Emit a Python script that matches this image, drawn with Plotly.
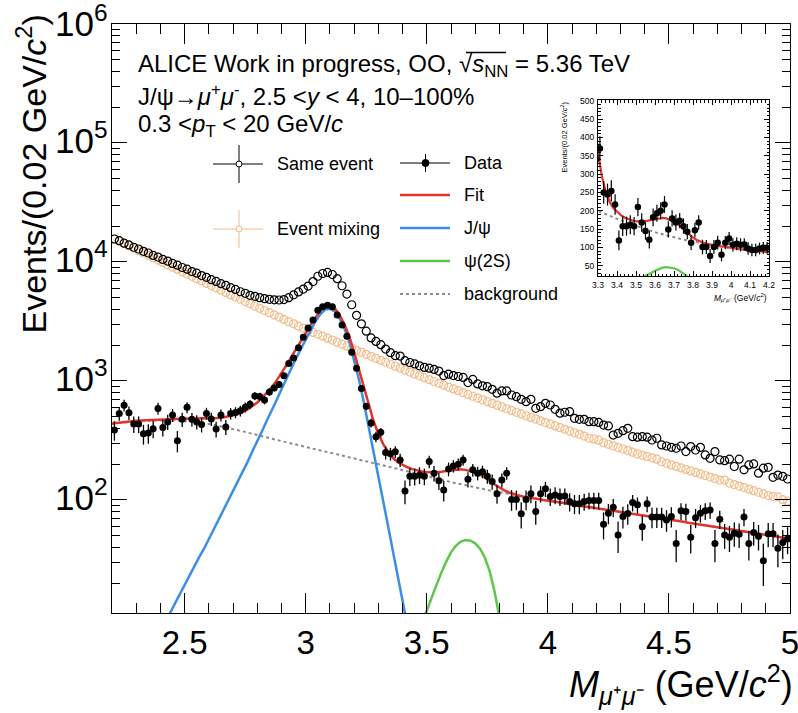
import plotly.graph_objects as go

# ---------------- data ----------------
bin_low = 2.2
bin_width = 0.02
n_bins = 140
mass = [round(bin_low + bin_width * (i + 0.5), 3) for i in range(n_bins)]

data_counts = [
    387, 534, 624, 541, 434, 434, 360, 365, 397, 588,
    407, 453, 517, 315, 476, 600, 476, 453, 431, 534,
    479, 395, 517, 411, 534, 544, 561, 600, 636, 746,
    739, 692, 808, 873, 935, 1104, 1400, 1560, 1904, 2330,
    2782, 3258, 3920, 4210, 4320, 4200, 3589, 2958, 2380, 1740,
    1280, 864, 612, 444, 340, 370, 250, 244, 254, 217,
    119, 158, 158, 162, 158, 210, 168, 145, 121, 182,
    193, 200, 217, 149, 179, 168, 173, 158, 143, 113,
    147, 168, 101, 101, 76.5, 101, 113, 79.8, 113, 124,
    107, 110, 107, 108, 97, 93, 93, 97, 99, 99,
    99, 62.6, 77.5, 87, 50.8, 72.7, 77, 95, 91, 59.5,
    93, 71.9, 72, 72, 68, 72.7, 43, 81, 80, 48.5,
    71, 77.5, 81, 82.4, 43, 69, 50.8, 48.5, 52.5, 51.5,
    72, 43, 53.3, 49.6, 30.9, 52, 52, 39.2, 43.8, 47,
]
data_errors = [
    72, 70, 71, 70, 69, 70, 68, 68, 67, 68, 66, 66, 65, 64, 65, 64,
    63, 62, 62, 61, 61, 60, 60, 59, 59, 58, 58, 58, 57, 57, 57,
    56, 56, 56, 56, 57, 58, 60, 62, 64, 66, 70, 74, 76, 77, 76, 73,
    69, 64, 58, 52, 47, 42, 38, 35, 33, 31, 30, 29, 28, 27,
    27, 26, 26, 25, 25, 25, 24, 24, 24, 23, 23, 23, 22, 22, 22,
    21, 21, 21, 20, 20, 20, 20, 19, 19, 19, 19, 18, 18, 18, 18,
    18, 18, 17, 17, 17, 17, 16, 16, 16, 16, 16, 15, 15, 15, 15, 15, 15,
    14, 14, 14, 14, 14, 14, 14, 14, 13, 13, 13, 13, 13, 13, 13, 13, 13,
    12, 12, 12, 12, 12, 12, 12, 12, 12, 12, 12, 12, 12, 12, 12,
]
same_event = [
    15600, 15100, 14380, 13900, 13300, 12850, 12280, 11900, 11350, 10990,
    10500, 10180, 9720, 9400, 8990, 8700, 8310, 8050, 7690, 7430,
    7100, 6870, 6570, 6360, 6080, 5880, 5620, 5460, 5250, 5140,
    5010, 4920, 4850, 4810, 4790, 4830, 5010, 5300, 5600, 5920,
    6270, 6840, 7590, 8000, 8170, 7850, 7240, 6310, 5370, 4370,
    3560, 3020, 2620, 2300, 2150, 2020, 1855, 1730, 1630, 1620,
    1480, 1430, 1390, 1340, 1300, 1280, 1250, 1210, 1110, 1140,
    1110, 1090, 1070, 970, 1030, 945, 910, 895, 851, 790,
    824, 824, 762, 738, 701, 670, 701, 589, 608, 649,
    628, 578, 536, 546, 552, 485, 476, 476, 455, 455,
    448, 426, 419, 351, 363, 382, 400, 340, 337, 340,
    337, 319, 330, 290, 284, 277, 272, 284, 255, 281,
    263, 277, 239, 224, 255, 217, 214, 220, 191, 220,
    179, 197, 201, 168, 185, 188, 155, 162, 158, 150,
]
mixed_event = [
    15670, 14960, 14290, 13650, 13040, 12450, 11900, 11370, 10860, 10380,
    9910, 9470, 9050, 8650, 8270, 7910, 7570, 7240, 6920, 6620,
    6330, 6060, 5800, 5550, 5310, 5080, 4860, 4650, 4450, 4260,
    4080, 3910, 3750, 3590, 3440, 3290, 3150, 3020, 2890, 2770,
    2660, 2560, 2470, 2380, 2290, 2206, 2120, 2040, 1960, 1880,
    1810, 1741, 1675, 1612, 1551, 1492, 1436, 1382, 1330, 1280,
    1233, 1188, 1146, 1104, 1065, 1026, 990, 955, 921, 888,
    858, 828, 799, 771, 744, 718, 694, 670, 648, 626,
    605, 584, 565, 546, 528, 510, 494, 478, 462, 447,
    433, 419, 405, 392, 379, 367, 356, 344, 330, 326,
    318, 303, 294, 285, 276, 268, 260, 252, 244, 237,
    232, 226, 220, 209.4, 203.1, 197, 191.5, 186, 180.7, 175.5,
    170.4, 165.4, 160.5, 155.8, 151.2, 146.9, 147, 138.6, 134.7, 130.9,
    127.1, 123.3, 119.7, 116.1, 112.7, 109, 107, 106, 100.5, 97.7,
]

fit_mass = [round(2.2 + 0.02 * i, 2) for i in range(141)]
fit_total = [
    438, 444, 449, 453, 458, 462, 465, 468, 471, 473,
    476, 477, 478, 480, 481, 481, 481, 481, 481, 482,
    484, 485, 488, 493, 502, 512, 527, 551, 577, 616,
    660, 723, 803, 889, 1011, 1163, 1352, 1586, 1841, 2147,
    2518, 2964, 3429, 3892, 4236, 4296, 4090, 3589, 2987, 2367,
    1737, 1241, 874, 626, 461, 360, 295, 254, 226, 208,
    196.6, 188.2, 181.7, 177.1, 173.5, 170.9, 170.8, 170.9, 172.5, 175.2,
    177.3, 179.2, 180.7, 179, 175.5, 170.2, 163.9, 154.7, 145.1, 135,
    126.7, 120.3, 115.5, 111.8, 108.9, 106.4, 105.2, 103.1, 102, 100,
    98.9, 97.5, 96.0, 94.6, 93.1, 91.8, 90.6, 89.1, 87.9, 86.5,
    85.3, 84.1, 82.8, 81.7, 80.4, 79.3, 78.2, 76.9, 75.9, 74.6,
    73.6, 72.6, 71.4, 70.5, 69.3, 68.4, 67.5, 66.4, 65.5, 64.4,
    63.5, 62.7, 61.7, 60.8, 59.8, 59.0, 58.2, 57.3, 56.5, 55.6,
    54.8, 54.1, 53.2, 52.5, 51.6, 50.9, 50.2, 49.4, 48.8, 48.0,
    47.3,
]
fit_background = [
    437, 442, 447, 451, 455, 459, 461, 463, 466, 467,
    468, 468, 467, 466, 465, 462, 458, 453, 448, 443,
    437, 429, 420, 412, 404, 395, 386, 377, 368, 359,
    351, 343, 335, 327, 319, 312, 305, 298, 292, 285,
    279, 272, 267, 261, 255, 250, 244, 239, 233, 229,
    223, 218, 213, 209, 204, 200, 195, 191, 186, 182,
    178, 174, 170, 166, 162, 158, 155, 151, 148, 145,
    141, 138, 136, 133, 130, 127, 125, 122, 120, 118,
    116, 114, 112, 110, 108, 106, 105, 103, 102, 100,
    98.9, 97.5, 96.0, 94.6, 93.1, 91.8, 90.6, 89.1, 87.9, 86.5,
    85.3, 84.1, 82.8, 81.7, 80.4, 79.3, 78.2, 76.9, 75.9, 74.6,
    73.6, 72.6, 71.4, 70.5, 69.3, 68.4, 67.5, 66.4, 65.5, 64.4,
    63.5, 62.7, 61.7, 60.8, 59.8, 59.0, 58.2, 57.3, 56.5, 55.6,
    54.8, 54.1, 53.2, 52.5, 51.6, 50.9, 50.2, 49.4, 48.8, 48.0,
    47.3,
]
jpsi_mass = [round(2.40 + 0.02 * i, 2) for i in range(53)]
jpsi_curve = [
    7.6, 9.1, 11.2, 13.5, 16.2, 19.1, 22.9, 27.5, 33.1, 38.9,
    46.8, 56.2, 67.6, 81.3, 97.7, 117, 141, 174, 209, 257,
    309, 380, 468, 562, 692, 851, 1047, 1288, 1549, 1862,
    2239, 2692, 3162, 3631, 3981, 4046, 3846, 3350, 2754, 2138,
    1514, 1023, 661, 417, 257, 158, 97.7, 60.3, 37.2, 22.9,
    14.1, 8.7, 5.4,
]
psi2s_mass = [round(3.40 + 0.02 * i, 2) for i in range(23)]
psi2s_curve = [
    4.5, 5.5, 6.3, 7.8, 9.5, 11.7, 15.1, 19.5, 24.5, 30.2,
    36.3, 41.2, 44.7, 46.0, 45.5, 43.2, 38.9, 32.7, 25.1, 17.0,
    10.7, 6.3, 3.5,
]

y_tick_exponents = [2, 3, 4, 5, 6]

# ---------------- styling ----------------
C_RED = "#E5322B"
C_BLUE = "#3C8EE3"
C_GREEN = "#5EC64C"
C_ORANGE = "#F2BC8A"
C_GRAY = "#8C8C8C"
FONT = "Liberation Sans, Arial, Helvetica, sans-serif"

W, H = 798, 713
L, R, T, B = 112, 790, 24, 613
Y_LOG_MIN, Y_LOG_MAX = 1.05, 6.0


def fx(px):
    return (px - L) / (R - L)


def fy(py):
    return (B - py) / (B - T)


fig = go.Figure()

# main panel
fig.add_trace(go.Scatter(x=mass, y=mixed_event, mode="markers",
                         marker=dict(symbol="circle-open", size=8, color=C_ORANGE, line=dict(width=1.2, color=C_ORANGE)),
                         showlegend=False))
fig.add_trace(go.Scatter(x=mass, y=same_event, mode="markers",
                         marker=dict(symbol="circle-open", size=8, color="black", line=dict(width=1.2, color="black")),
                         showlegend=False))
fig.add_trace(go.Scatter(x=fit_mass, y=fit_background, mode="lines",
                         line=dict(color=C_GRAY, width=2, dash="dot"), showlegend=False))
fig.add_trace(go.Scatter(x=jpsi_mass, y=jpsi_curve, mode="lines",
                         line=dict(color=C_BLUE, width=2.5), showlegend=False))
fig.add_trace(go.Scatter(x=psi2s_mass, y=psi2s_curve, mode="lines",
                         line=dict(color=C_GREEN, width=2.5), showlegend=False))
fig.add_trace(go.Scatter(x=fit_mass, y=fit_total, mode="lines",
                         line=dict(color=C_RED, width=2.5), showlegend=False))
fig.add_trace(go.Scatter(x=mass, y=data_counts, mode="markers",
                         marker=dict(symbol="circle", size=7, color="black"),
                         error_y=dict(type="data", array=data_errors, color="black", thickness=1.3, width=0),
                         showlegend=False))

# inset panel
fig.add_trace(go.Scatter(x=fit_mass, y=fit_background, mode="lines", xaxis="x2", yaxis="y2",
                         line=dict(color=C_GRAY, width=2, dash="dot"), showlegend=False))
fig.add_trace(go.Scatter(x=psi2s_mass, y=psi2s_curve, mode="lines", xaxis="x2", yaxis="y2",
                         line=dict(color=C_GREEN, width=2.2), showlegend=False))
fig.add_trace(go.Scatter(x=fit_mass, y=fit_total, mode="lines", xaxis="x2", yaxis="y2",
                         line=dict(color=C_RED, width=2.2), showlegend=False))
fig.add_trace(go.Scatter(x=mass, y=data_counts, mode="markers", xaxis="x2", yaxis="y2",
                         marker=dict(symbol="circle", size=6.5, color="black"),
                         error_y=dict(type="data", array=data_errors, color="black", thickness=1.2, width=0),
                         showlegend=False))

axis_common = dict(showgrid=False, zeroline=False, showline=True, linecolor="black", linewidth=1,
                   mirror="ticks", ticks="inside", tickcolor="black", automargin=False)

fig.update_layout(
    width=W, height=H,
    margin=dict(l=L, r=W - R, t=T, b=H - B, autoexpand=False),
    paper_bgcolor="white", plot_bgcolor="white",
    font=dict(family=FONT, color="black"),
    showlegend=False,
    xaxis=dict(range=[2.2, 5.0], tick0=2.5, dtick=0.5, ticklen=20, tickwidth=1,
               tickfont=dict(size=33, family=FONT), ticklabelstandoff=0, ticklabeloverflow="allow",
               minor=dict(dtick=0.1, tick0=2.2, ticklen=10, ticks="inside", tickcolor="black"),
               **axis_common),
    yaxis=dict(type="log", range=[Y_LOG_MIN, Y_LOG_MAX], tickmode="array",
               tickvals=[10 ** e for e in y_tick_exponents], showticklabels=False,
               ticklen=15, tickwidth=1,
               minor=dict(tickmode="array",
                          tickvals=[m * 10 ** e for e in range(1, 6) for m in range(2, 10)],
                          ticklen=8, ticks="inside", tickcolor="black"),
               **axis_common),
    xaxis2=dict(domain=[fx(598), fx(769)], anchor="y2", range=[3.3, 4.2], tick0=3.3, dtick=0.1,
                ticklen=5, tickfont=dict(size=8.5, family=FONT), ticklabelstandoff=1,
                ticklabeloverflow="allow",
                minor=dict(dtick=0.02, ticklen=2.5, ticks="inside", tickcolor="black"),
                **axis_common),
    yaxis2=dict(domain=[fy(276), fy(100)], anchor="x2", range=[22, 502], tick0=50, dtick=50,
                ticklen=5, tickfont=dict(size=8.5, family=FONT), ticklabelstandoff=1,
                minor=dict(dtick=10, tick0=0, ticklen=2.5, ticks="inside", tickcolor="black"),
                **axis_common),
)

ann = []
# y tick labels (10^n, the "10" centred on the tick like ROOT)
for e in y_tick_exponents:
    ann.append(dict(x=fx(110), y=(e - Y_LOG_MIN) / (Y_LOG_MAX - Y_LOG_MIN), xref="paper", yref="paper",
                    xanchor="right", yanchor="middle", yshift=(3 if e == 6 else 5),
                    text="10<sup>%d</sup>" % e, showarrow=False, font=dict(size=35, family=FONT)))
# header text
ann.append(dict(x=fx(136), y=fy(65), xref="paper", yref="paper", xanchor="left", yanchor="middle",
                text="ALICE Work in progress, OO, √<i>s</i><sub>NN</sub> = 5.36 TeV",
                showarrow=False, font=dict(size=24, family=FONT)))
ann.append(dict(x=fx(136), y=fy(95), xref="paper", yref="paper", xanchor="left", yanchor="middle",
                text="J/ψ→<i>μ</i><sup>+</sup><i>μ</i><sup>-</sup>, 2.5 &lt;<i>y</i> &lt; 4, 10–100%",
                showarrow=False, font=dict(size=24, family=FONT)))
ann.append(dict(x=fx(136), y=fy(126), xref="paper", yref="paper", xanchor="left", yanchor="middle",
                text="0.3 &lt;<i>p</i><sub>T</sub> &lt; 20 GeV/<i>c</i>",
                showarrow=False, font=dict(size=24, family=FONT)))
# axis titles
ann.append(dict(x=fx(31), y=fy(13), xref="paper", yref="paper", xanchor="center", yanchor="top",
                text="Events/(0.02 GeV/<i>c</i><sup>2</sup>)", textangle=-90,
                showarrow=False, font=dict(size=34, family=FONT)))
ann.append(dict(x=fx(795), y=fy(684), xref="paper", yref="paper", xanchor="right", yanchor="middle",
                text="<i>M</i><sub><i>μ</i>⁺<i>μ</i>⁻</sub> (GeV/<i>c</i><sup>2</sup>)",
                showarrow=False, font=dict(size=36, family=FONT)))
# inset titles
ann.append(dict(x=fx(563), y=fy(100), xref="paper", yref="paper", xanchor="center", yanchor="top",
                text="Events/(0.02 GeV/<i>c</i><sup>2</sup>)", textangle=-90,
                showarrow=False, font=dict(size=7.5, family=FONT)))
ann.append(dict(x=fx(769), y=fy(297), xref="paper", yref="paper", xanchor="right", yanchor="middle",
                text="<i>M</i><sub><i>μ</i>⁺<i>μ</i>⁻</sub> (GeV/<i>c</i><sup>2</sup>)",
                showarrow=False, font=dict(size=8.5, family=FONT)))
# legend texts
legend_left = [("Same event", 164), ("Event mixing", 229)]
legend_right = [("Data", 163), ("Fit", 195), ("J/ψ", 228), ("ψ(2S)", 261), ("background", 294)]
for txt, yy in legend_left:
    ann.append(dict(x=fx(275), y=fy(yy), xref="paper", yref="paper", xanchor="left", yanchor="middle",
                    text=txt, showarrow=False, font=dict(size=18, family=FONT)))
for txt, yy in legend_right:
    ann.append(dict(x=fx(462), y=fy(yy), xref="paper", yref="paper", xanchor="left", yanchor="middle",
                    text=txt, showarrow=False, font=dict(size=18, family=FONT)))
fig.update_layout(annotations=ann)

shapes = []


def seg(x0, y0, x1, y1, color, width=1, dash=None):
    d = dict(type="line", xref="paper", yref="paper", x0=fx(x0), y0=fy(y0), x1=fx(x1), y1=fy(y1),
             line=dict(color=color, width=width))
    if dash:
        d["line"]["dash"] = dash
    shapes.append(d)


def circ(cx, cy, r, color, fill):
    shapes.append(dict(type="circle", xref="paper", yref="paper",
                       x0=fx(cx - r), x1=fx(cx + r), y0=fy(cy + r), y1=fy(cy - r),
                       line=dict(color=color, width=1), fillcolor=fill))


# same event entry
seg(213, 164, 263, 164, "black")
seg(239, 145, 239, 183, "black")
circ(239, 164, 3, "black", "white")
# event mixing entry
seg(213, 229, 263, 229, C_ORANGE)
seg(239, 210, 239, 248, C_ORANGE)
circ(239, 229, 3, C_ORANGE, "white")
# data entry
seg(400, 163, 450, 163, "black")
seg(425.5, 154, 425.5, 172, "black")
circ(425.5, 163, 3.5, "black", "black")
# curves
seg(400, 195, 450, 195, C_RED, 2.5)
seg(400, 228, 450, 228, C_BLUE, 2.5)
seg(400, 261, 450, 261, C_GREEN, 2.5)
seg(400, 294, 450, 294, C_GRAY, 2, "dot")
# overline of the square root in the header
seg(466, 52.5, 506, 52.5, "black", 1.3)
fig.update_layout(shapes=shapes)

fig.write_html("out.html", config={"displayModeBar": False},
               post_script="document.body.style.margin='0px';document.body.style.overflow='hidden';")
